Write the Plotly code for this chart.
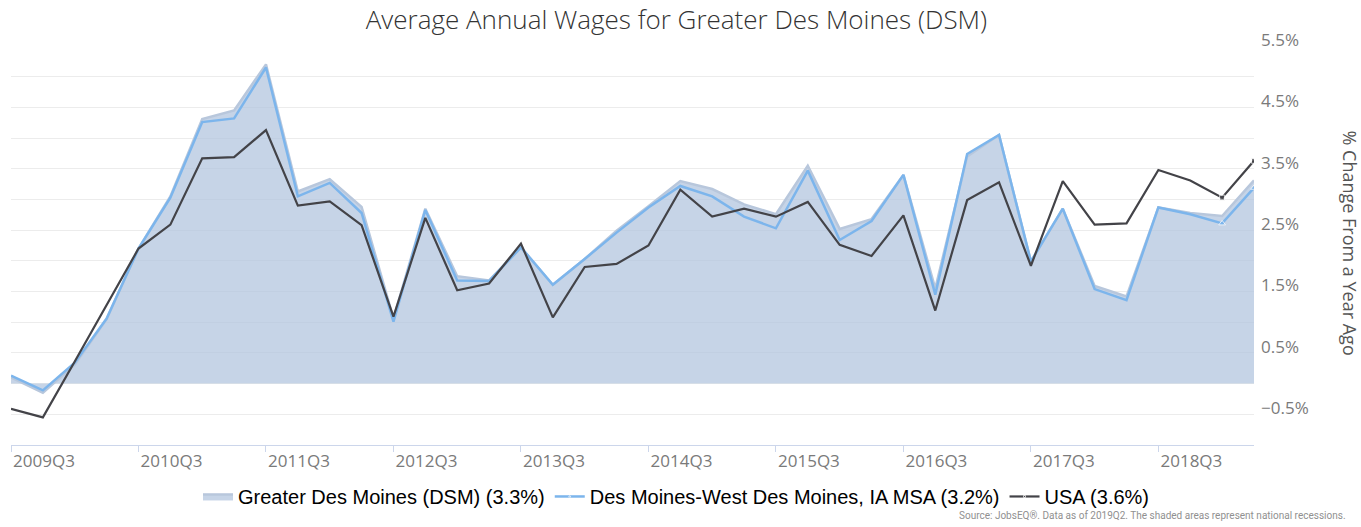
import plotly.graph_objects as go

quarters = [
    "2009Q3", "2009Q4", "2010Q1", "2010Q2", "2010Q3", "2010Q4", "2011Q1", "2011Q2",
    "2011Q3", "2011Q4", "2012Q1", "2012Q2", "2012Q3", "2012Q4", "2013Q1", "2013Q2",
    "2013Q3", "2013Q4", "2014Q1", "2014Q2", "2014Q3", "2014Q4", "2015Q1", "2015Q2",
    "2015Q3", "2015Q4", "2016Q1", "2016Q2", "2016Q3", "2016Q4", "2017Q1", "2017Q2",
    "2017Q3", "2017Q4", "2018Q1", "2018Q2", "2018Q3", "2018Q4", "2019Q1", "2019Q2",
]

dsm = [0.10, -0.15, 0.31, 1.05, 2.20, 3.05, 4.31, 4.45, 5.20, 3.13,
       3.33, 2.88, 1.06, 2.85, 1.75, 1.68, 2.22, 1.61, 2.03, 2.49,
       2.89, 3.30, 3.17, 2.92, 2.76, 3.55, 2.52, 2.68, 3.40, 1.55,
       3.70, 4.05, 1.99, 2.85, 1.59, 1.42, 2.87, 2.78, 2.73, 3.31]

msa = [0.13, -0.11, 0.34, 1.06, 2.20, 3.03, 4.26, 4.32, 5.15, 3.05,
       3.27, 2.78, 1.01, 2.83, 1.68, 1.67, 2.22, 1.61, 2.03, 2.46,
       2.87, 3.22, 3.05, 2.72, 2.53, 3.47, 2.34, 2.65, 3.40, 1.45,
       3.74, 4.05, 1.99, 2.85, 1.54, 1.36, 2.87, 2.76, 2.61, 3.19]

usa = [-0.41, -0.55, 0.36, 1.28, 2.20, 2.59, 3.67, 3.69, 4.13, 2.90,
       2.97, 2.58, 1.09, 2.70, 1.52, 1.63, 2.28, 1.08, 1.90, 1.95,
       2.25, 3.16, 2.72, 2.85, 2.72, 2.96, 2.26, 2.08, 2.74, 1.19,
       2.99, 3.28, 1.92, 3.30, 2.59, 2.61, 3.48, 3.31, 3.03, 3.63]

series_names = [
    "Greater Des Moines (DSM) (3.3%)",
    "Des Moines-West Des Moines, IA MSA (3.2%)",
    "USA (3.6%)",
]

x_tick_labels = ["2009Q3", "2010Q3", "2011Q3", "2012Q3", "2013Q3",
                 "2014Q3", "2015Q3", "2016Q3", "2017Q3", "2018Q3"]

y_tick_vals = [-1.0, -0.5, 0.0, 0.5, 1.0, 1.5, 2.0, 2.5, 3.0, 3.5, 4.0, 4.5, 5.0, 5.5]
y_tick_text = ["", "\u22120.5%", "", "0.5%", "", "1.5%", "", "2.5%", "", "3.5%", "", "4.5%", "", "5.5%"]

title_text = "Average Annual Wages for Greater Des Moines (DSM)"
y_title = "% Change From a Year Ago"
source_text = "Source: JobsEQ\u00ae. Data as of 2019Q2. The shaded areas represent national recessions."

n = len(quarters)
end_markers = [0] * (n - 2) + [6, 6]

fig = go.Figure()
fig.add_trace(go.Scatter(
    x=quarters, y=dsm, name=series_names[0], mode="lines",
    fill="tozeroy", fillcolor="rgba(176,196,222,0.72)",
    line=dict(color="#b8c7dc", width=2.5),
))
fig.add_trace(go.Scatter(
    x=quarters, y=msa, name=series_names[1], mode="lines+markers",
    line=dict(color="#7cb5ec", width=2.5),
    marker=dict(size=end_markers, symbol="triangle-up", color="#7cb5ec"),
))
fig.add_trace(go.Scatter(
    x=quarters, y=usa, name=series_names[2], mode="lines+markers",
    line=dict(color="#434348", width=2.2),
    marker=dict(size=[s - 1 if s else 0 for s in end_markers], symbol="square", color="#434348"),
))

fig.update_layout(
    width=1361, height=527,
    margin=dict(l=11, r=107, t=46, b=79),
    paper_bgcolor="white", plot_bgcolor="white",
    title=dict(text=title_text, x=0.497, xanchor="center", y=1 - 20 / 527, yanchor="middle",
               font=dict(family="Open Sans", size=26, color="#333333", weight=300)),
    showlegend=True,
    legend=dict(orientation="h", x=0.535, xanchor="center", y=-0.129, yanchor="middle",
                font=dict(family="Liberation Sans, Arial", size=20, color="#000000"),
                itemwidth=30, bgcolor="rgba(0,0,0,0)"),
    hovermode=False,
)

fig.update_xaxes(
    type="category", range=[0, n - 1], automargin=False,
    tickmode="array", tickvals=x_tick_labels, ticktext=x_tick_labels,
    ticks="outside", ticklen=6, tickcolor="#ccd6eb",
    showline=True, linecolor="#ccd6eb", linewidth=1,
    showgrid=False, zeroline=False,
    ticklabelshift=33, ticklabelstandoff=-5,
    tickfont=dict(family="Open Sans", size=17, color="#7a7a7a"),
)

fig.update_yaxes(
    side="right", range=[-1.0, 5.5], automargin=False,
    tickmode="array", tickvals=y_tick_vals, ticktext=y_tick_text,
    showgrid=True, gridcolor="#ececec", gridwidth=1,
    zeroline=False, showline=False, ticks="",
    ticklabelshift=-6, ticklabelstandoff=6,
    tickfont=dict(family="Open Sans", size=17, color="#7a7a7a"),
)

fig.add_annotation(
    text=y_title, xref="paper", yref="paper", x=(1350 - 11) / 1243, y=0.505,
    xanchor="center", yanchor="middle", textangle=90, showarrow=False,
    font=dict(family="Open Sans", size=18, color="#555555"),
)
fig.add_annotation(
    text=source_text, xref="paper", yref="paper", x=(1348 - 11) / 1243, y=-0.177,
    xanchor="right", yanchor="middle", showarrow=False,
    font=dict(family="Roboto", size=10, color="#909090"),
)

fig.write_html("out.html", config={"displayModeBar": False},
               post_script="document.body.style.margin='0';document.body.style.overflow='hidden';")
